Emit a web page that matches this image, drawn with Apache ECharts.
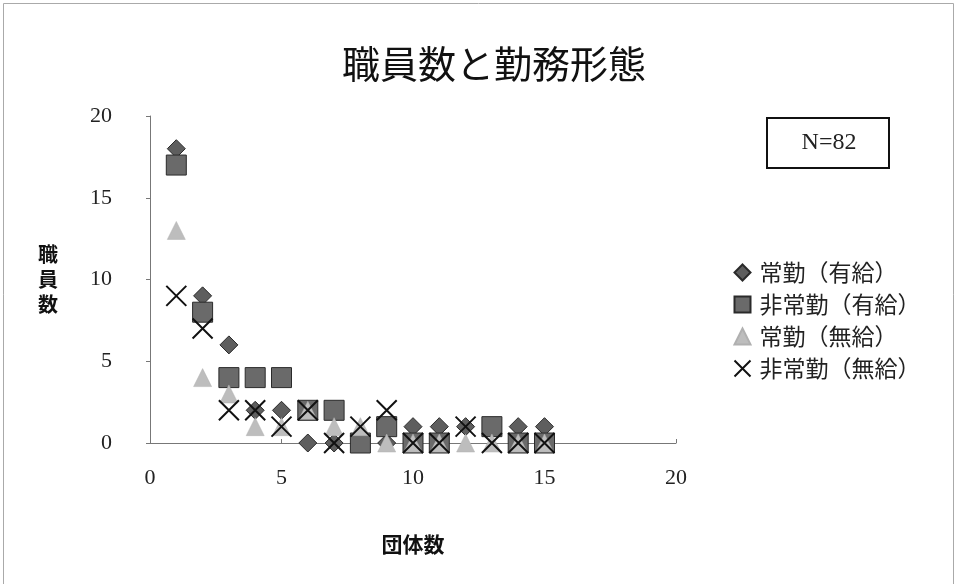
<!DOCTYPE html>
<html>
<head>
<meta charset="utf-8">
<script src="https://cdn.jsdelivr.net/npm/echarts@6/dist/echarts.min.js"></script>
<style>
  html, body { margin: 0; padding: 0; background: #fff; }
  #chart { width: 957px; height: 584px; }
</style>
</head>
<body>
<div id="chart"></div>
<script>
// 団体数 (x) and 職員数 (y) for each employment type
const groups = [1, 2, 3, 4, 5, 6, 7, 8, 9, 10, 11, 12, 13, 14, 15];
const fullTimePaid    = [18, 9, 6, 2, 2, 0, 0, 0, 0, 1, 1, 1, 1, 1, 1];
const partTimePaid    = [17, 8, 4, 4, 4, 2, 2, 0, 1, 0, 0, null, 1, 0, 0];
const fullTimeUnpaid  = [13, 4, 3, 1, 1, 2, 1, 1, 0, 0, 0, 0, 0, 0, 0];
const partTimeUnpaid  = [9, 7, 2, 2, 1, 2, 0, 1, 2, 0, 0, 1, 0, 0, 0];
const seriesNames = ['常勤（有給）', '非常勤（有給）', '常勤（無給）', '非常勤（無給）'];
const axisTicks = [0, 5, 10, 15, 20];

const serif = '"Liberation Serif", "DejaVu Serif", serif';
const gothic = '"Noto Sans CJK JP", sans-serif';

function pairs(ys) {
  const out = [];
  groups.forEach((x, i) => { if (ys[i] !== null) out.push([x, ys[i]]); });
  return out;
}

const crossPath = 'path://M0,0L10,10M10,0L0,10';

const chart = echarts.init(document.getElementById('chart'));
chart.setOption({
  animation: false,
  backgroundColor: '#fff',
  title: {
    text: '職員数と勤務形態',
    left: 489, top: 40, textAlign: 'center',
    textStyle: { fontFamily: gothic, fontSize: 38, fontWeight: 'normal', color: '#111' }
  },
  grid: { left: 150, right: 281, top: 116, bottom: 141 },
  xAxis: {
    type: 'value', min: axisTicks[0], max: axisTicks[axisTicks.length - 1], interval: 5,
    name: '団体数', nameLocation: 'middle', nameGap: 91,
    nameTextStyle: { fontFamily: gothic, fontSize: 21, fontWeight: 'bold', color: '#111' },
    axisLine: { lineStyle: { color: '#777', width: 1 } },
    axisTick: { show: true, inside: true, length: 4, lineStyle: { color: '#777' } },
    axisLabel: { margin: 24, fontFamily: serif, fontSize: 22, color: '#222' },
    splitLine: { show: false }
  },
  yAxis: {
    type: 'value', min: axisTicks[0], max: axisTicks[axisTicks.length - 1], interval: 5,
    name: '職\n員\n数', nameLocation: 'middle', nameRotate: 0, nameGap: 92,
    nameTextStyle: { fontFamily: gothic, fontSize: 20, fontWeight: 'bold', color: '#111', lineHeight: 25 },
    axisLine: { show: true, lineStyle: { color: '#777', width: 1 } },
    axisTick: { show: true, length: 4, lineStyle: { color: '#777' } },
    axisLabel: { margin: 38, fontFamily: serif, fontSize: 22, color: '#222' },
    splitLine: { show: false }
  },
  legend: {
    orient: 'vertical', left: 727, top: 256, itemGap: 9,
    itemWidth: 16, itemHeight: 16,
    textStyle: { fontFamily: gothic, fontSize: 23, color: '#222', padding: [0, 0, 0, 4] },
    data: seriesNames
  },
  graphic: [
    { type: 'rect', shape: { x: 3.5, y: 3.5, width: 950, height: 590 }, style: { fill: 'none', stroke: '#aaa', lineWidth: 1 }, silent: true },
    { type: 'rect', shape: { x: 767, y: 118, width: 122, height: 50 }, style: { fill: '#fff', stroke: '#111', lineWidth: 2 }, silent: true },
    { type: 'text', x: 829, y: 143, style: { text: 'N=82', font: '24px ' + serif, fill: '#222', align: 'center', verticalAlign: 'middle' }, silent: true }
  ],
  series: [
    {
      name: seriesNames[0], type: 'scatter', symbol: 'diamond', symbolSize: 18,
      itemStyle: { color: '#5e5e5e', borderColor: '#2a2a2a', borderWidth: 1, opacity: 1 },
      data: pairs(fullTimePaid)
    },
    {
      name: seriesNames[1], type: 'scatter', symbol: 'rect', symbolSize: 20,
      itemStyle: { color: '#6a6a6a', borderColor: '#2a2a2a', borderWidth: 1, opacity: 1 },
      data: pairs(partTimePaid)
    },
    {
      name: seriesNames[2], type: 'scatter', symbol: 'triangle', symbolSize: 18,
      itemStyle: { color: '#bdbdbd', borderColor: '#b0b0b0', borderWidth: 0.5, opacity: 1 },
      data: pairs(fullTimeUnpaid)
    },
    {
      name: seriesNames[3], type: 'scatter', symbol: crossPath, symbolSize: 20,
      itemStyle: { color: 'none', borderColor: '#111', borderWidth: 2, opacity: 1 },
      data: pairs(partTimeUnpaid)
    }
  ]
});
</script>
</body>
</html>
